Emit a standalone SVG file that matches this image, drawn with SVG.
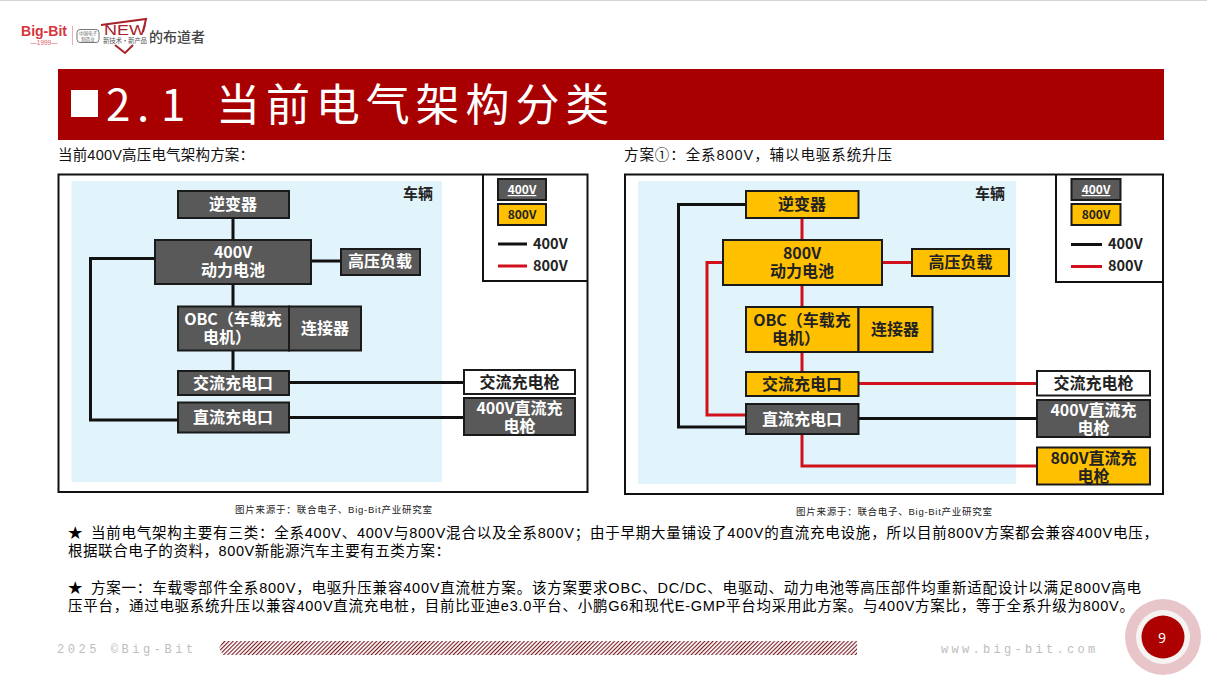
<svg xmlns="http://www.w3.org/2000/svg" width="1207" height="692" viewBox="0 0 1207 692">
<style>
text{font-family:"Liberation Sans","Noto Sans CJK SC",sans-serif}
.n rect{stroke:#1a1a1a;stroke-width:2}
.g rect{fill:#595959}.y rect{fill:#ffc000}.w rect{fill:#fff}
.n text{font-family:"Noto Sans CJK SC",sans-serif;font-size:16px;font-weight:700;text-anchor:middle}
.g text{fill:#fff}.y text,.w text{fill:#222}
.k{stroke:#111;stroke-width:3;fill:none}
.r{stroke:#d0111c;stroke-width:3;fill:none}
.frame{fill:#fff;stroke:#111;stroke-width:2}
.bg{fill:#e1f4fc}
.veh{font-family:"Noto Sans CJK SC",sans-serif;font-size:15px;font-weight:700;fill:#222}
.lg{font-family:"Noto Sans CJK SC",sans-serif;font-size:14.500px;font-weight:700;fill:#222}
.cap{font-size:9.5px;fill:#222}
.h{font-size:14.500px;fill:#111}
.b{font-size:14.500px;fill:#000}
.ft{font-family:"Liberation Mono",monospace;font-size:12px;fill:#bdbdbd}
</style>
<defs>
<pattern id="hatch" width="2.900" height="4" patternUnits="userSpaceOnUse" patternTransform="rotate(45)"><rect width="2.900" height="4" fill="#fff"/><rect width="1.100" height="4" fill="#7a1a20"/></pattern>
</defs>
<rect width="1207" height="692" fill="#fff"/>
<rect width="1207" height="1" fill="#d4d4d4"/>
<g id="logo">
<text x="21" y="36" font-size="14.500" font-weight="700" fill="#d8343c" textLength="46" lengthAdjust="spacingAndGlyphs">Big-Bit</text>
<text x="44" y="45" font-size="6.500" fill="#d8606a" text-anchor="middle">—1999—</text>
<rect x="72" y="26" width="1" height="19" fill="#e8b0b0"/>
<rect x="77" y="29.500" width="22" height="13" rx="3" fill="#fff" stroke="#777"/>
<text x="88" y="35" font-size="4.500" fill="#666" text-anchor="middle" style="font-family:'Noto Sans CJK SC',sans-serif">中国电子</text>
<text x="88" y="40.500" font-size="4.500" fill="#666" text-anchor="middle" style="font-family:'Noto Sans CJK SC',sans-serif">制造业</text>
<path d="M101 25 L146 19 L143 32" fill="none" stroke="#a8232b" stroke-width="2"/>
<path d="M115 45 L125 53 L133 45" fill="none" stroke="#a8232b" stroke-width="2"/>
<text x="104" y="35" font-size="14" fill="#a8232b" textLength="42" lengthAdjust="spacingAndGlyphs">NEW</text>
<text x="103" y="43" font-size="6.500" fill="#555" textLength="44" style="font-family:'Noto Sans CJK SC',sans-serif">新技术·新产品</text>
<text x="149" y="42" font-size="14" font-weight="500" fill="#444" style="font-family:'Noto Sans CJK SC',sans-serif">的布道者</text>
</g>
<g id="title">
<rect x="58" y="69" width="1106" height="71" fill="#a80000"/>
<rect x="71" y="90" width="27" height="27" fill="#fff"/>
<text y="120.500" font-size="44" fill="#fff" style="font-family:'Noto Sans CJK SC',sans-serif"><tspan x="106">2</tspan><tspan x="137">.</tspan><tspan x="161">1</tspan><tspan x="216" letter-spacing="5.900">当前电气架构分类</tspan></text>
</g>
<text class="h" x="58" y="160" textLength="196">当前400V高压电气架构方案：</text>
<text class="h" x="624" y="160" textLength="268">方案①：全系800V，辅以电驱系统升压</text>

<rect class="frame" x="58.500" y="174.500" width="529" height="317.500"/>
<rect class="bg" x="71.500" y="181" width="370.500" height="301"/>
<text class="veh" x="403" y="199">车辆</text>
<g id="legend-left">
<path d="M483 174.500 V281 H588" fill="none" stroke="#111" stroke-width="2"/>
<g class="n g" id="lgl-400"><rect x="498" y="179" width="48" height="21"/><text x="522" y="194" style="font-size:12px;text-decoration:underline">400V</text></g>
<g class="n y" id="lgl-800"><rect x="498" y="204" width="48" height="21"/><text x="522" y="219" style="font-size:12px">800V</text></g>
<path class="k" d="M498 244 H527"/><path class="r" d="M498 266 H527"/>
<text class="lg" x="533" y="249">400V</text><text class="lg" x="533" y="271">800V</text>
</g>
<g id="connectors-left">
<path class="k" d="M233 218 V240 M233 284 V306 M233 351 V371 M311 261 H341 M289 382.500 H464 M289 417.500 H464"/>
<path class="k" d="M155 258.500 H90.500 V420 H178"/>
</g>
<g id="l-inverter" class="n g"><rect x="178" y="191" width="111" height="27"/><text x="233" y="210">逆变器</text></g>
<g id="l-battery" class="n g"><rect x="155" y="240" width="156" height="44"/><text><tspan x="233" y="258">400V</tspan><tspan x="233" y="276">动力电池</tspan></text></g>
<g id="l-load" class="n g"><rect x="341" y="249" width="79" height="26"/><text x="380" y="267">高压负载</text></g>
<g id="l-obc" class="n g"><rect x="178" y="306.500" width="111" height="44"/><text><tspan x="233" y="325">OBC（车载充</tspan><tspan x="227" y="343">电机）</tspan></text></g>
<g id="l-conn" class="n g"><rect x="289" y="306.500" width="72" height="44"/><text x="325" y="334">连接器</text></g>
<g id="l-ac" class="n g"><rect x="178" y="371" width="111" height="24"/><text x="233" y="389">交流充电口</text></g>
<g id="l-dc" class="n g"><rect x="178" y="402.500" width="111" height="30"/><text x="233" y="423">直流充电口</text></g>
<g id="l-acgun" class="n w"><rect x="464" y="370" width="111" height="24"/><text x="519.500" y="388">交流充电枪</text></g>
<g id="l-dcgun" class="n g"><rect x="464" y="398" width="111" height="37"/><text><tspan x="519.500" y="413.500">400V直流充</tspan><tspan x="519.500" y="431.500">电枪</tspan></text></g>
<text class="cap" x="235" y="513" textLength="197">图片来源于：联合电子、Big-Bit产业研究室</text>

<rect class="frame" x="625" y="174.500" width="538" height="319.500"/>
<rect class="bg" x="638" y="181" width="378" height="303"/>
<text class="veh" x="975" y="199">车辆</text>
<g id="legend-right">
<path d="M1056 174.500 V282 H1163" fill="none" stroke="#111" stroke-width="2"/>
<g class="n g" id="lgr-400"><rect x="1071.500" y="179" width="49" height="21"/><text x="1096" y="194" style="font-size:12px;text-decoration:underline">400V</text></g>
<g class="n y" id="lgr-800"><rect x="1071.500" y="204" width="49" height="21"/><text x="1096" y="219" style="font-size:12px">800V</text></g>
<path class="k" d="M1071 244.500 H1102"/><path class="r" d="M1071 266.500 H1102"/>
<text class="lg" x="1108" y="249">400V</text><text class="lg" x="1108" y="271">800V</text>
</g>
<g id="connectors-right">
<path class="r" d="M802 218 V240 M802 285 V307 M802 352 V372 M882 262.500 H912 M859 383.500 H1037"/>
<path class="r" d="M723 262.500 H707 V415 H746"/>
<path class="r" d="M802 434 V466 H1037"/>
<path class="k" d="M746 204.500 H678.500 V427 H746 M859 418.500 H1037"/>
</g>
<g id="r-inverter" class="n y"><rect x="746" y="191" width="112.500" height="27"/><text x="802" y="210">逆变器</text></g>
<g id="r-battery" class="n y"><rect x="723" y="240" width="159" height="45"/><text><tspan x="802" y="259">800V</tspan><tspan x="802" y="277">动力电池</tspan></text></g>
<g id="r-load" class="n y"><rect x="912" y="249" width="97" height="27"/><text x="960.500" y="268">高压负载</text></g>
<g id="r-obc" class="n y"><rect x="746" y="307" width="112.500" height="45"/><text><tspan x="802" y="326">OBC（车载充</tspan><tspan x="796" y="344">电机）</tspan></text></g>
<g id="r-conn" class="n y"><rect x="858.500" y="307" width="74" height="45"/><text x="895" y="335">连接器</text></g>
<g id="r-ac" class="n y"><rect x="746" y="372" width="112.500" height="24"/><text x="802" y="390">交流充电口</text></g>
<g id="r-dc" class="n g"><rect x="746" y="404" width="112.500" height="30"/><text x="802" y="425">直流充电口</text></g>
<g id="r-acgun" class="n w"><rect x="1037" y="371" width="113" height="24.500"/><text x="1093.500" y="389">交流充电枪</text></g>
<g id="r-dcgun" class="n g"><rect x="1037" y="400" width="113" height="37"/><text><tspan x="1093.500" y="415.500">400V直流充</tspan><tspan x="1093.500" y="433.500">电枪</tspan></text></g>
<g id="r-dcgun8" class="n y"><rect x="1037" y="447.500" width="113" height="37"/><text><tspan x="1093.500" y="463.500">800V直流充</tspan><tspan x="1093.500" y="481.500">电枪</tspan></text></g>
<text class="cap" x="796" y="515" textLength="196">图片来源于：联合电子、Big-Bit产业研究室</text>

<g id="body">
<text class="b" x="68" y="538">★</text>
<text class="b" x="91" y="538" textLength="1067">当前电气架构主要有三类：全系400V、400V与800V混合以及全系800V；由于早期大量铺设了400V的直流充电设施，所以目前800V方案都会兼容400V电压，</text>
<text class="b" x="68" y="556" textLength="382">根据联合电子的资料，800V新能源汽车主要有五类方案：</text>
<text class="b" x="68" y="593">★</text>
<text class="b" x="91" y="593" textLength="1050">方案一：车载零部件全系800V，电驱升压兼容400V直流桩方案。该方案要求OBC、DC/DC、电驱动、动力电池等高压部件均重新适配设计以满足800V高电</text>
<text class="b" x="68" y="611" textLength="1066">压平台，通过电驱系统升压以兼容400V直流充电桩，目前比亚迪e3.0平台、小鹏G6和现代E-GMP平台均采用此方案。与400V方案比，等于全系升级为800V。</text>
</g>
<g id="footer">
<text class="ft" x="57" y="653" letter-spacing="3.550">2025 ©Big-Bit</text>
<path d="M223 641 H857 V655 H223 L219 648 Z" fill="url(#hatch)"/>
<text class="ft" x="941" y="653" letter-spacing="3.300">www.big-bit.com</text>
</g>
<g id="page">
<circle cx="1163" cy="637" r="38" fill="#e8c5c9"/>
<circle cx="1163" cy="637" r="27" fill="#f6f3f3"/>
<circle cx="1163" cy="637" r="21.500" fill="#ad0000"/>
<text x="1162" y="643" font-size="14" fill="#fff" text-anchor="middle" style="font-family:'Noto Sans',sans-serif">9</text>
</g>
</svg>
